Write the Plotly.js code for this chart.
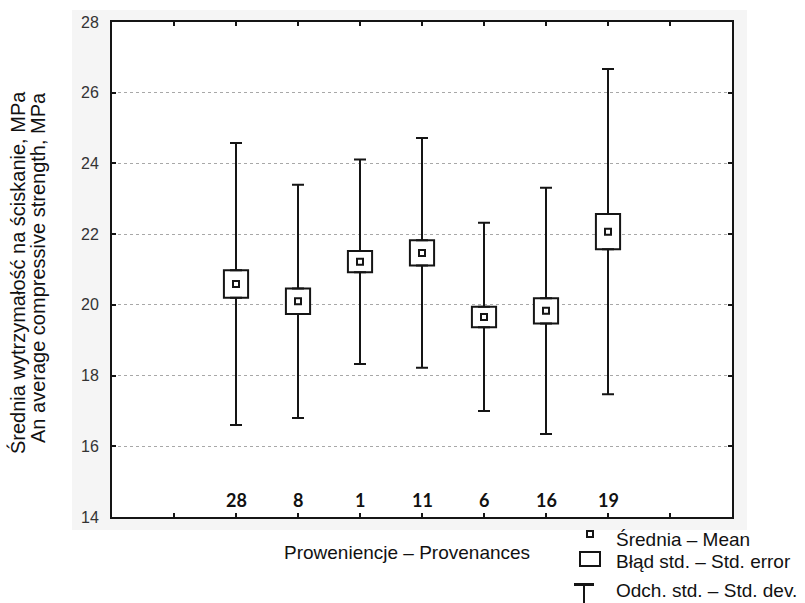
<!DOCTYPE html>
<html><head><meta charset="utf-8">
<script src="https://cdn.plot.ly/plotly-3.0.1.min.js"></script>
<style>html,body{margin:0;padding:0;background:#fff;}#chart{width:805px;height:603px;}</style>
</head><body><div id="chart"></div>
<script>
// ---- data ----
const provenances = ['28', '8', '1', '11', '6', '16', '19'];
const meanValues  = [20.59, 20.10, 21.22, 21.47, 19.66, 19.83, 22.07];
const stdErrors   = [0.39, 0.36, 0.30, 0.36, 0.29, 0.36, 0.50];
const stdDevs     = [3.99, 3.30, 2.89, 3.25, 2.66, 3.48, 4.60];
const xTickLabels = ['', '28', '8', '1', '11', '6', '16', '19', ''];
const yTickValues = [14, 16, 18, 20, 22, 24, 26, 28];

// ---- geometry ----
const W = 805, H = 603;
const M = {l: 112, r: 73, t: 22, b: 86};
const PW = W - M.l - M.r, PH = H - M.t - M.b;
const px = v => (v - M.l) / PW;
const py = v => (H - M.b - v) / PH;

const xPos = provenances.map((_, i) => i + 2);
const xTickVals = xTickLabels.map((_, i) => i + 1);
const ink = '#151515';

const boxTrace = {
  type: 'bar', x: xPos,
  y: stdErrors.map(s => 2 * s),
  base: meanValues.map((m, i) => m - stdErrors[i]),
  width: 0.39,
  marker: {color: '#ffffff', line: {color: ink, width: 2}},
  hoverinfo: 'skip', name: 'Błąd std. – Std. error'
};
const upperWhisker = {
  type: 'scatter', mode: 'markers', x: xPos,
  y: meanValues.map((m, i) => m + stdErrors[i]),
  marker: {size: 1, color: 'rgba(0,0,0,0)'},
  error_y: {type: 'data', symmetric: false,
            array: stdDevs.map((d, i) => d - stdErrors[i]),
            arrayminus: stdDevs.map(() => 0),
            width: 6, thickness: 2, color: ink},
  hoverinfo: 'skip', name: 'Odch. std. – Std. dev.'
};
const lowerWhisker = {
  type: 'scatter', mode: 'markers', x: xPos,
  y: meanValues.map((m, i) => m - stdErrors[i]),
  marker: {size: 1, color: 'rgba(0,0,0,0)'},
  error_y: {type: 'data', symmetric: false,
            array: stdDevs.map(() => 0),
            arrayminus: stdDevs.map((d, i) => d - stdErrors[i]),
            width: 6, thickness: 2, color: ink},
  hoverinfo: 'skip', showlegend: false
};
const meanTrace = {
  type: 'scatter', mode: 'markers', x: xPos, y: meanValues,
  marker: {symbol: 'square-open', size: 6, color: ink, line: {width: 2, color: ink}},
  name: 'Średnia – Mean'
};

const baseFont = 'Liberation Sans, Arial, sans-serif';
const paperAnn = a => Object.assign({xref: 'paper', yref: 'paper', showarrow: false,
                                     xanchor: 'center', yanchor: 'middle'}, a);
// legend key boxes (outer size = width + 2*borderwidth)
const keyBox = (cx, cy, w, h, bw, fill) => paperAnn({
  text: ' ', x: px(cx), y: py(cy), width: w, height: h, borderpad: 0,
  borderwidth: bw, bordercolor: ink, bgcolor: fill, font: {size: 1}
});

const annotations = [
  paperAnn({text: 'Średnia wytrzymałość na ściskanie, MPa', x: px(17), y: py(273), textangle: -90,
   font: {size: 20, family: baseFont, color: '#111'}}),
  paperAnn({text: 'An average compressive strength, MPa', x: px(38), y: py(268), textangle: -90,
   font: {size: 20, family: baseFont, color: '#111'}}),
  paperAnn({text: 'Proweniencje – Provenances', x: px(407), y: py(552),
   font: {size: 19, family: baseFont, color: '#111'}}),
  // legend texts
  paperAnn({text: 'Średnia – Mean', x: px(614), y: py(539), xanchor: 'left',
   font: {size: 19, family: baseFont, color: '#111'}}),
  paperAnn({text: 'Błąd std. – Std. error', x: px(614), y: py(561), xanchor: 'left',
   font: {size: 19, family: baseFont, color: '#111'}}),
  paperAnn({text: 'Odch. std. – Std. dev.', x: px(614), y: py(590), xanchor: 'left',
   font: {size: 19, family: baseFont, color: '#111'}}),
  // legend keys
  keyBox(590, 534, 4, 4, 2, '#ffffff'),
  keyBox(590, 559, 18, 12, 2, '#ffffff'),
  keyBox(584, 584, 18, 0, 1, ink),
  keyBox(584, 594, 0, 18, 1, ink)
];
// category labels inside the plot, placed on the x axis scale
xTickLabels.forEach((t, i) => {
  if (!t) return;
  annotations.push({text: '<b>' + t + '</b>', xref: 'x', yref: 'paper', x: xTickVals[i], y: py(500),
    showarrow: false, xanchor: 'center', yanchor: 'middle',
    font: {family: 'Lato, sans-serif', size: 18, color: '#111'}});
});

const layout = {
  width: W, height: H, margin: M,
  paper_bgcolor: '#ffffff', plot_bgcolor: 'rgba(0,0,0,0)',
  showlegend: false, bargap: 0,
  font: {family: baseFont, color: '#111'},
  xaxis: {
    range: [0, 10], tickmode: 'array', tickvals: xTickVals, ticktext: xTickLabels,
    showticklabels: false,
    ticks: 'inside', ticklen: 4, tickwidth: 2, tickcolor: ink,
    showline: true, linewidth: 2, linecolor: ink, mirror: 'ticks',
    showgrid: false, zeroline: false, fixedrange: true
  },
  yaxis: {
    range: [14, 28], tickmode: 'array', tickvals: yTickValues,
    ticks: 'inside', ticklen: 4, tickwidth: 2, tickcolor: ink,
    showline: true, linewidth: 2, linecolor: ink, mirror: 'ticks',
    showgrid: true, gridcolor: '#a8a8a8', griddash: 'dot', gridwidth: 1,
    zeroline: false, ticklabelstandoff: 8,
    tickfont: {family: baseFont, size: 16, color: '#333'},
    fixedrange: true
  },
  shapes: [
    {type: 'rect', xref: 'paper', yref: 'paper', x0: px(72), x1: px(747), y0: py(530), y1: py(10),
     fillcolor: '#f5f5f5', line: {width: 0}, layer: 'below'},
    {type: 'rect', xref: 'paper', yref: 'paper', x0: 0, x1: 1, y0: 0, y1: 1,
     fillcolor: '#ffffff', line: {width: 0}, layer: 'below'}
  ],
  annotations: annotations
};

Plotly.newPlot('chart', [boxTrace, upperWhisker, lowerWhisker, meanTrace], layout,
               {displayModeBar: false, staticPlot: true});
</script>
</body></html>
